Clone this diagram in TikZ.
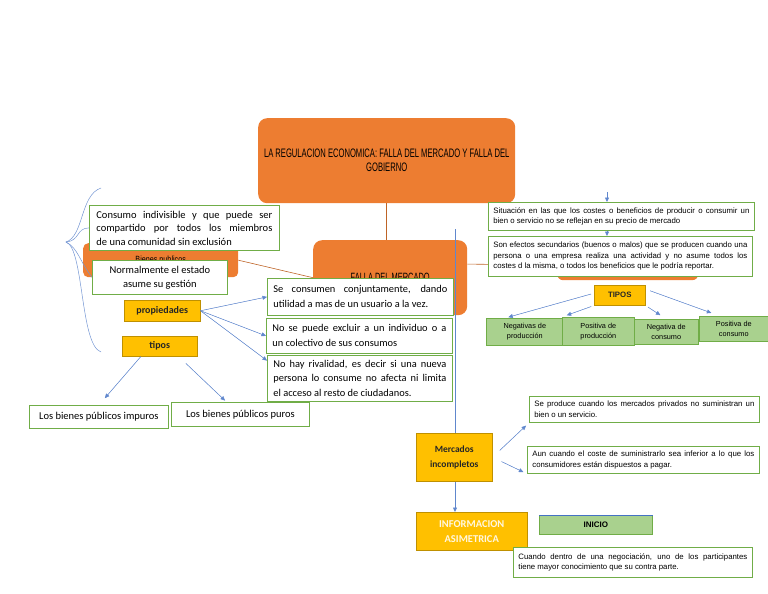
\documentclass[tikz,border=0pt]{standalone}
\usepackage{fontspec}
\setmainfont{Carlito}
\newfontfamily\titlefont{Liberation Sans}[FakeStretch=0.62]
\newfontfamily\narrowfont{Liberation Sans}[FakeStretch=0.8]
\newfontfamily\plainfont{Liberation Sans}
\usetikzlibrary{arrows.meta,positioning,calc}
\definecolor{orng}{HTML}{ED7D31}
\definecolor{ylw}{HTML}{FFC000}
\definecolor{grnb}{HTML}{70AD47}
\definecolor{grnf}{HTML}{A9D18E}
\definecolor{blu}{HTML}{4472C4}
\tikzset{
  obox/.style={fill=orng,rounded corners=9pt,anchor=north west,inner sep=2pt,align=center},
  wbox/.style={draw=grnb,fill=white,line width=.8pt,anchor=north west,inner xsep=6pt,
               inner ysep=2pt,align=justify},
  cbox/.style={draw=grnb,fill=white,line width=.8pt,anchor=north west,inner sep=2pt,
               align=center,font=\fontsize{10.5}{14}\selectfont},
  sbox/.style={wbox,inner xsep=5pt,font=\plainfont\fontsize{7.8}{10.5}\selectfont},
  ybox/.style={draw=ylw!75!black,fill=ylw,line width=.5pt,anchor=north west,inner sep=1pt,
               align=center,text=black!85,font=\bfseries\fontsize{10}{14}\selectfont},
  gbox/.style={draw=grnb,fill=grnf,line width=.6pt,anchor=north west,inner sep=1pt,
               align=center,font=\plainfont\fontsize{7.3}{10}\selectfont},
  ar/.style={-{Triangle[length=4.5pt,width=4pt]},draw=blu!85,fill=blu!85,line width=.5pt},
  ln/.style={draw=orng!80!black,line width=.6pt},
  brc/.style={draw=blu!75,line width=.5pt},
}
\begin{document}
\begin{tikzpicture}[x=1pt,y=-1pt]
  \useasboundingbox (0,0) rectangle (768,594);
  % orange heads
  \node[obox,minimum width=257pt,minimum height=85pt,font=\titlefont\fontsize{12.3}{14}\selectfont]
    (title) at (258,118) {LA REGULACION ECONOMICA: FALLA DEL MERCADO Y FALLA DEL\\GOBIERNO};
  \node[obox,minimum width=154pt,minimum height=75pt,font=\titlefont\fontsize{12}{14}\selectfont]
    (falla) at (313,240) {FALLA DEL MERCADO};
  \node[obox,rounded corners=5pt,minimum width=155pt,minimum height=34pt,
        font=\narrowfont\fontsize{9}{11}\selectfont] (bienes) at (83,243) {Bienes publicos};
  \node[obox,rounded corners=6pt,minimum width=141pt,minimum height=30pt] (ext) at (557,250) {};
  \draw[ln] (title.south) -- (title.south |- falla.north);
  \draw[ln] (bienes.east) -- (falla.west);
  \draw[ln] (falla.10) -- (ext.west);

  % long blue line
  \node[ybox,minimum width=111pt,minimum height=38pt,text=ylw!12!white,
        font=\bfseries\fontsize{10.5}{15}\selectfont] (info) at (416,512) {INFORMACION\\ASIMETRICA};
  \coordinate (vtop) at (455,229);
  \draw[ar] (vtop) -- (vtop |- info.north);

  % left branch
  \node[wbox,inner xsep=7pt,text width=176pt,minimum height=45pt,font=\fontsize{10.5}{13.5}\selectfont]
    (consumo) at (89,205) {Consumo indivisible y que puede ser\linebreak compartido por todos los miembros\linebreak de una comunidad sin exclusión};
  \node[cbox,minimum width=135pt,minimum height=34pt] (norm) at (92,260)
    {Normalmente el estado\\asume su gestión};
  \node[ybox,minimum width=76pt,minimum height=21pt] (prop) at (124,300) {propiedades};
  \node[ybox,minimum width=75pt,minimum height=20pt] (tip) at (122,336) {tipos};
  \node[wbox,text width=174pt,minimum height=37pt,font=\fontsize{10.4}{15}\selectfont]
    (se) at (267,278) {Se consumen conjuntamente, dando\linebreak utilidad a mas de un usuario a la vez.};
  \node[wbox,text width=174pt,minimum height=35pt,font=\fontsize{10.4}{15}\selectfont]
    (noex) at (266,318) {No se puede excluir a un individuo o a\linebreak un colectivo de sus consumos};
  \node[wbox,text width=173pt,minimum height=46pt,font=\fontsize{10.4}{14.5}\selectfont]
    (noriv) at (267,355) {No hay rivalidad, es decir si una nueva\linebreak persona lo consume no afecta ni limita\linebreak el acceso al resto de ciudadanos.};
  \node[cbox,minimum width=139pt,minimum height=23pt] (imp) at (29,405) {Los bienes públicos impuros};
  \node[cbox,minimum width=138pt,minimum height=24pt] (pur) at (171,402) {Los bienes públicos puros};

  % brace
  \coordinate (btop) at (101,188);
  \coordinate (btip) at (66,242);
  \coordinate (bbot) at (101,352);
  \draw[brc] (btop) .. controls (80,195) and (84,236) .. (btip)
             .. controls (84,248) and (80,345) .. (bbot);
  \draw[brc] (btip) .. controls (80,241) and (76,228) .. (consumo.west);
  \draw[brc] (btip) .. controls (78,248) and (80,262) .. (norm.west);

  \draw[ar] (prop.east) -- (se.west);
  \draw[ar] (prop.east) -- (noex.west);
  \draw[ar] (prop.east) -- ($(noriv.north west)!.12!(noriv.south west)$);
  \draw[ar,shorten >=9pt] ($(tip.south west)!.25!(tip.south east)$) -- (imp.north);
  \draw[ar,shorten <=10pt,shorten >=2pt] ($(tip.south west)!.75!(tip.south east)$)
    -- ($(pur.north west)!.4!(pur.north east)$);

  % right branch
  \node[sbox,text width=256pt,minimum height=28pt] (sit) at (488,202)
    {Situación en las que los costes o beneficios de producir o consumir un\linebreak bien o servicio no se reflejan en su precio de mercado};
  \node[sbox,text width=254pt,minimum height=40pt] (son) at (488,236)
    {Son efectos secundarios (buenos o malos) que se producen cuando una\linebreak persona o una empresa realiza una actividad y no asume todos los\linebreak costes d la misma, o todos los beneficios que le podría reportar.};
  \coordinate (sitin) at (607,192);
  \draw[ar] (sitin) -- (sitin |- sit.north);
  \draw[ar] (sitin |- sit.south) -- (sitin |- son.north);

  \node[ybox,minimum width=51pt,minimum height=20pt,font=\plainfont\bfseries\fontsize{7.8}{9}\selectfont]
    (tipos) at (594,285) {TIPOS};
  \node[gbox,minimum width=77pt,minimum height=27pt] (neg1) at (486,318) {Negativas de\\producción};
  \node[gbox,minimum width=72pt,minimum height=28pt] (pos1) at (562,317) {Positiva de\\producción};
  \node[gbox,minimum width=64pt,minimum height=25pt] (neg2) at (634,319) {Negativa de\\consumo};
  \node[gbox,minimum width=69pt,minimum height=25pt] (pos2) at (699,316) {Positiva de\\consumo};
  \draw[ar,shorten <=3pt,shorten >=3pt] ($(tipos.north west)!.4!(tipos.south west)$)
    -- ($(neg1.north west)!.25!(neg1.north east)$);
  \draw[ar,shorten <=3pt,shorten >=5pt] (tipos.south west) -- (pos1.north west);
  \draw[ar,shorten <=3pt,shorten >=7pt] (tipos.south east) -- (neg2.north);
  \draw[ar,shorten <=5pt,shorten >=9pt] ($(tipos.north east)!.2!(tipos.south east)$)
    -- ($(pos2.north west)!.3!(pos2.north east)$);

  % mercados incompletos
  \node[ybox,minimum width=76pt,minimum height=48pt,font=\bfseries\fontsize{9.5}{15}\selectfont]
    (merc) at (416,433) {Mercados\\incompletos};
  \node[sbox,text width=220pt,minimum height=26pt] (sp) at (529,396)
    {Se produce cuando los mercados privados no suministran un\linebreak bien o un servicio.};
  \node[sbox,text width=222pt,minimum height=27pt] (aun) at (527,446)
    {Aun cuando el coste de suministrarlo sea inferior a lo que los\linebreak consumidores están dispuestos a pagar.};
  \draw[ar,shorten <=10pt,shorten >=4pt] (merc.east) -- (sp.south west);
  \draw[ar,shorten <=10pt,shorten >=4pt] (merc.east) -- (aun.south west);

  % informacion asimetrica
  \node[gbox,minimum width=113pt,minimum height=19pt,font=\plainfont\bfseries\fontsize{8}{9}\selectfont]
    (inicio) at (539,515) {INICIO};
  \draw[blu,line width=.6pt] (inicio.north west) -- (inicio.north east);
  \node[sbox,text width=229pt,minimum height=30pt] (cuan) at (513,547)
    {Cuando dentro de una negociación, uno de los participantes\linebreak tiene mayor conocimiento que su contra parte.};
\end{tikzpicture}
\end{document}
